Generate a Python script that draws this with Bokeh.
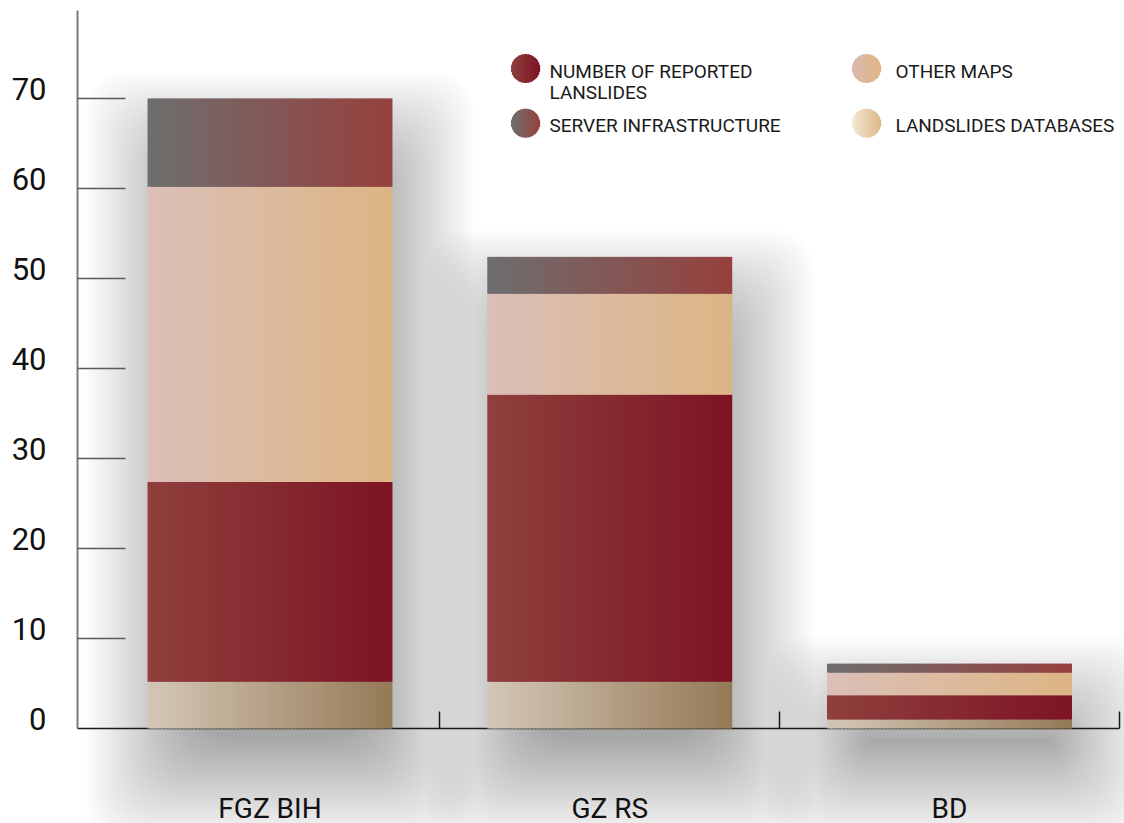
import numpy as np
from bokeh.plotting import figure
from bokeh.models import LinearAxis, FixedTicker, Range1d, Label
from bokeh.embed import file_html
from bokeh.resources import INLINE

# ---------------- data ----------------
categories = ["FGZ BIH", "GZ RS", "BD"]
landslides_databases = [5.2, 5.2, 1.0]
reported_landslides = [22.2, 31.9, 2.7]
other_maps = [32.8, 11.2, 2.5]
server_infrastructure = [9.8, 4.1, 1.0]
y_tick_values = [0, 10, 20, 30, 40, 50, 60, 70]

series_names = ["LANDSLIDES DATABASES", "NUMBER OF REPORTED LANSLIDES", "OTHER MAPS", "SERVER INFRASTRUCTURE"]
series_values = [landslides_databases, reported_landslides, other_maps, server_infrastructure]

# gradient colours (left -> right) of bar segments, bottom to top
bar_gradients = [
    ((212, 198, 182), (149, 122, 87)),
    ((143, 64, 61), (125, 20, 36)),
    ((219, 191, 184), (221, 181, 132)),
    ((110, 110, 110), (150, 65, 62)),
]
# legend entries: (label lines, gradient, column, row)
legend_entries = [
    (["NUMBER OF REPORTED", "LANSLIDES"], ((143, 64, 61), (125, 20, 36)), 0, 0),
    (["SERVER INFRASTRUCTURE"], ((110, 110, 110), (151, 66, 63)), 0, 1),
    (["OTHER MAPS"], ((217, 185, 176), (223, 182, 131)), 1, 0),
    (["LANDSLIDES DATABASES"], ((243, 231, 213), (220, 186, 134)), 1, 1),
]

# ---------------- layout (canvas pixels) ----------------
W, H = 1124, 823
C0 = 269.5          # px of first category centre
UNIT = 339.75       # px per category
Y0 = 728.0          # px of value 0
PPU = 9.0           # px per value unit
BW = 0.721          # bar width in category units

def px2x(px):
    return (px - C0) / UNIT

def px2y(py):
    return (Y0 - py) / PPU

def hexcol(c):
    return "#%02x%02x%02x" % tuple(int(round(v)) for v in c)

def lerp(a, b, f):
    return tuple(a[k] + (b[k] - a[k]) * f for k in range(3))

x_start, x_end = px2x(0), px2x(W)
y_start, y_end = px2y(H), px2y(0)

p = figure(width=W, height=H, x_range=Range1d(x_start, x_end), y_range=Range1d(y_start, y_end),
           output_backend="svg", toolbar_location=None, x_axis_type=None, y_axis_type=None,
           min_border=0, outline_line_color=None, background_fill_color="white",
           border_fill_color="white")
p.min_border_left = p.min_border_right = p.min_border_top = p.min_border_bottom = 0

totals = [sum(v[i] for v in series_values) for i in range(len(categories))]

# ---------------- soft drop shadows ----------------
sl, sr, st, sb = [], [], [], []
dx_px, dy_px = 10.0, 45.0
for i, tot in enumerate(totals):
    for e in np.linspace(-35, 72, 44):
        sl.append(i - BW / 2 + (dx_px - e) / UNIT)
        sr.append(i + BW / 2 + (dx_px + e) / UNIT)
        st.append(tot + (e - dy_px) / PPU)
        sb.append(0 - (dy_px + e) / PPU)
shadow = p.quad(left=sl, right=sr, top=st, bottom=sb, fill_color="#2a2a2a", fill_alpha=0.009,
                line_color=None, border_radius=40)
shadow.level = "image"

# ---------------- gradient stacked bars ----------------
NS = 70
ql, qr, qt, qb, qc = [], [], [], [], []
for i in range(len(categories)):
    base = 0.0
    for s, vals in enumerate(series_values):
        top = base + vals[i]
        c_left, c_right = bar_gradients[s]
        for j in range(NS):
            f = j / (NS - 1)
            left = i - BW / 2 + j * BW / NS
            right = min(left + BW / NS * 1.6, i + BW / 2)
            ql.append(left); qr.append(right); qt.append(top); qb.append(base)
            qc.append(hexcol(lerp(c_left, c_right, f)))
        base = top
p.quad(left=ql, right=qr, top=qt, bottom=qb, fill_color=qc, line_color=None)

# ---------------- legend ----------------
col_circle_px = [525.0, 866.0]
col_text_px = [549.0, 895.0]
row_center_px = [68.0, 122.7]
R = 14.5
ll, lr, lt, lb, lc = [], [], [], [], []
for lines, (c_left, c_right), col, row in legend_entries:
    cx, cy = col_circle_px[col], row_center_px[row]
    n = int(2 * R)
    for j in range(n):
        xc = -R + j + 0.5
        hh = np.sqrt(max(R * R - xc * xc, 0.0))
        f = j / (n - 1)
        ll.append(px2x(cx + xc - 0.5)); lr.append(px2x(cx + xc + 0.6))
        lt.append(px2y(cy - hh)); lb.append(px2y(cy + hh))
        lc.append(hexcol(lerp(c_left, c_right, f)))
    for k, line in enumerate(lines):
        ty = cy + 2.5 + k * 21.0
        p.add_layout(Label(x=px2x(col_text_px[col]), y=px2y(ty), text=line, text_font="Roboto",
                           text_font_size="19px", text_color="#1a1a1a", text_baseline="middle",
                           text_align="left"))
p.quad(left=ll, right=lr, top=lt, bottom=lb, fill_color=lc, line_color=None)

# ---------------- axes ----------------
y_axis_x = px2x(77)
p.extra_y_ranges = {"labels": Range1d(y_start - 10 / PPU, y_end - 10 / PPU)}

y_ticks_axis = LinearAxis(fixed_location=y_axis_x, ticker=FixedTicker(ticks=y_tick_values[1:]),
                          bounds=(0, px2y(10)), axis_line_color="#7a7a7a", axis_line_width=2,
                          major_tick_in=48, major_tick_out=0, major_tick_line_color="#5a5a5a",
                          major_tick_line_width=1.5, minor_tick_line_color=None,
                          major_label_text_color=None)
y_ticks_axis.level = "underlay"
p.add_layout(y_ticks_axis, "left")

y_label_axis = LinearAxis(fixed_location=y_axis_x, y_range_name="labels",
                          ticker=FixedTicker(ticks=y_tick_values), axis_line_color=None,
                          major_tick_line_color=None, minor_tick_line_color=None,
                          major_tick_in=0, major_tick_out=0, major_label_standoff=31,
                          major_label_text_font="Roboto", major_label_text_font_size="31px",
                          major_label_text_color="#111111")
y_label_axis.level = "underlay"
p.add_layout(y_label_axis, "left")

x_ticks_axis = LinearAxis(fixed_location=0, ticker=FixedTicker(ticks=[0.5, 1.5, 2.5]),
                          bounds=(y_axis_x, 2.5), axis_line_color="#1a1a1a", axis_line_width=1.5,
                          major_tick_in=17, major_tick_out=0, major_tick_line_color="#1a1a1a",
                          major_tick_line_width=1.5, minor_tick_line_color=None,
                          major_label_text_color=None)
x_ticks_axis.level = "underlay"
p.add_layout(x_ticks_axis, "below")

x_label_axis = LinearAxis(fixed_location=0, ticker=FixedTicker(ticks=list(range(len(categories)))),
                          major_label_overrides={i: c for i, c in enumerate(categories)},
                          axis_line_color=None, major_tick_line_color=None, minor_tick_line_color=None,
                          major_tick_in=0, major_tick_out=0, major_label_standoff=63,
                          major_label_text_font="Roboto", major_label_text_font_size="28px",
                          major_label_text_color="#111111")
x_label_axis.level = "underlay"
p.add_layout(x_label_axis, "below")

open("out.html", "w").write(file_html(p, INLINE))
